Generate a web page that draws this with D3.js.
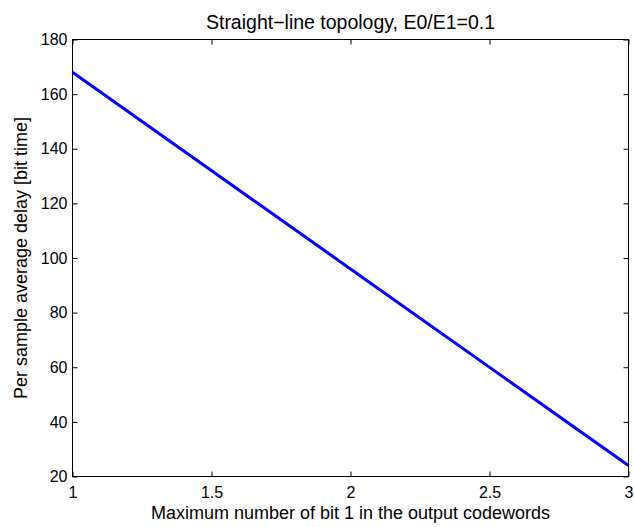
<!DOCTYPE html>
<html>
<head>
<meta charset="utf-8">
<script src="https://cdn.jsdelivr.net/npm/d3@7"></script>
<style>
  html, body { margin: 0; padding: 0; background: #fff; }
  svg { display: block; }
  text { font-family: "Liberation Sans", Arial, Helvetica, sans-serif; fill: #000; }
</style>
</head>
<body>
<svg id="chart" width="634" height="527"></svg>
<script>
// Maximum number of 1-bits allowed in each output codeword
const maxOnes = [1, 2, 3];
// Average delay per sample, in bit times
const avgDelay = [168, 96, 24];

const xTicks = [1, 1.5, 2, 2.5, 3];
const yTicks = [20, 40, 60, 80, 100, 120, 140, 160, 180];

const titleText = "Straight\u2212line topology, E0/E1=0.1";
const xLabelText = "Maximum number of bit 1 in the output codewords";
const yLabelText = "Per sample average delay [bit time]";

const W = 634, H = 527;
const margin = { left: 72.5, right: 5.5, top: 39.5, bottom: 50.5 };
const plotW = W - margin.left - margin.right;
const plotH = H - margin.top - margin.bottom;
const tickLen = 5;
const tickFont = 16;
const labelFont = 18;
const titleFont = 19.5;

const svg = d3.select("#chart");
const g = svg.append("g").attr("transform", `translate(${margin.left},${margin.top})`);

const x = d3.scaleLinear().domain([1, 3]).range([0, plotW]);
const y = d3.scaleLinear().domain([20, 180]).range([plotH, 0]);

// Bottom and left axes carry the labels; all ticks point inward
const fmt = d => String(d);
const xAxis = d3.axisBottom(x).tickValues(xTicks).tickFormat(fmt).tickSizeInner(-tickLen).tickSizeOuter(0).tickPadding(10);
const yAxis = d3.axisLeft(y).tickValues(yTicks).tickFormat(fmt).tickSizeInner(-tickLen).tickSizeOuter(0).tickPadding(5);
const xAxisTop = d3.axisTop(x).tickValues(xTicks).tickFormat("").tickSizeInner(-tickLen).tickSizeOuter(0);
const yAxisRight = d3.axisRight(y).tickValues(yTicks).tickFormat("").tickSizeInner(-tickLen).tickSizeOuter(0);

function style(sel) {
  sel.select(".domain").remove();
  sel.selectAll("line").attr("stroke", "#000").attr("stroke-width", 1);
  sel.selectAll("text").attr("font-size", tickFont).style("font-family", '"Liberation Sans", Arial, sans-serif');
}

g.append("g").attr("transform", `translate(0,${plotH})`).call(xAxis).call(style);
g.append("g").call(yAxis).call(style);
g.append("g").call(xAxisTop).call(style);
g.append("g").attr("transform", `translate(${plotW},0)`).call(yAxisRight).call(style);

// Data line
const line = d3.line().x((d, i) => x(maxOnes[i])).y(d => y(d));
g.append("path")
  .datum(avgDelay)
  .attr("fill", "none")
  .attr("stroke", "#0000ff")
  .attr("stroke-width", 3)
  .attr("d", line);

// Box around the plotting area
g.append("rect")
  .attr("x", 0).attr("y", 0)
  .attr("width", plotW).attr("height", plotH)
  .attr("fill", "none").attr("stroke", "#000").attr("stroke-width", 1);

// Title and axis labels
svg.append("text")
  .attr("x", margin.left + plotW / 2).attr("y", 29)
  .attr("text-anchor", "middle").attr("font-size", titleFont)
  .text(titleText);

svg.append("text")
  .attr("x", margin.left + plotW / 2).attr("y", 519)
  .attr("text-anchor", "middle").attr("font-size", labelFont)
  .text(xLabelText);

svg.append("text")
  .attr("transform", `translate(27,${margin.top + plotH / 2}) rotate(-90)`)
  .attr("text-anchor", "middle").attr("font-size", labelFont)
  .text(yLabelText);
</script>
</body>
</html>
